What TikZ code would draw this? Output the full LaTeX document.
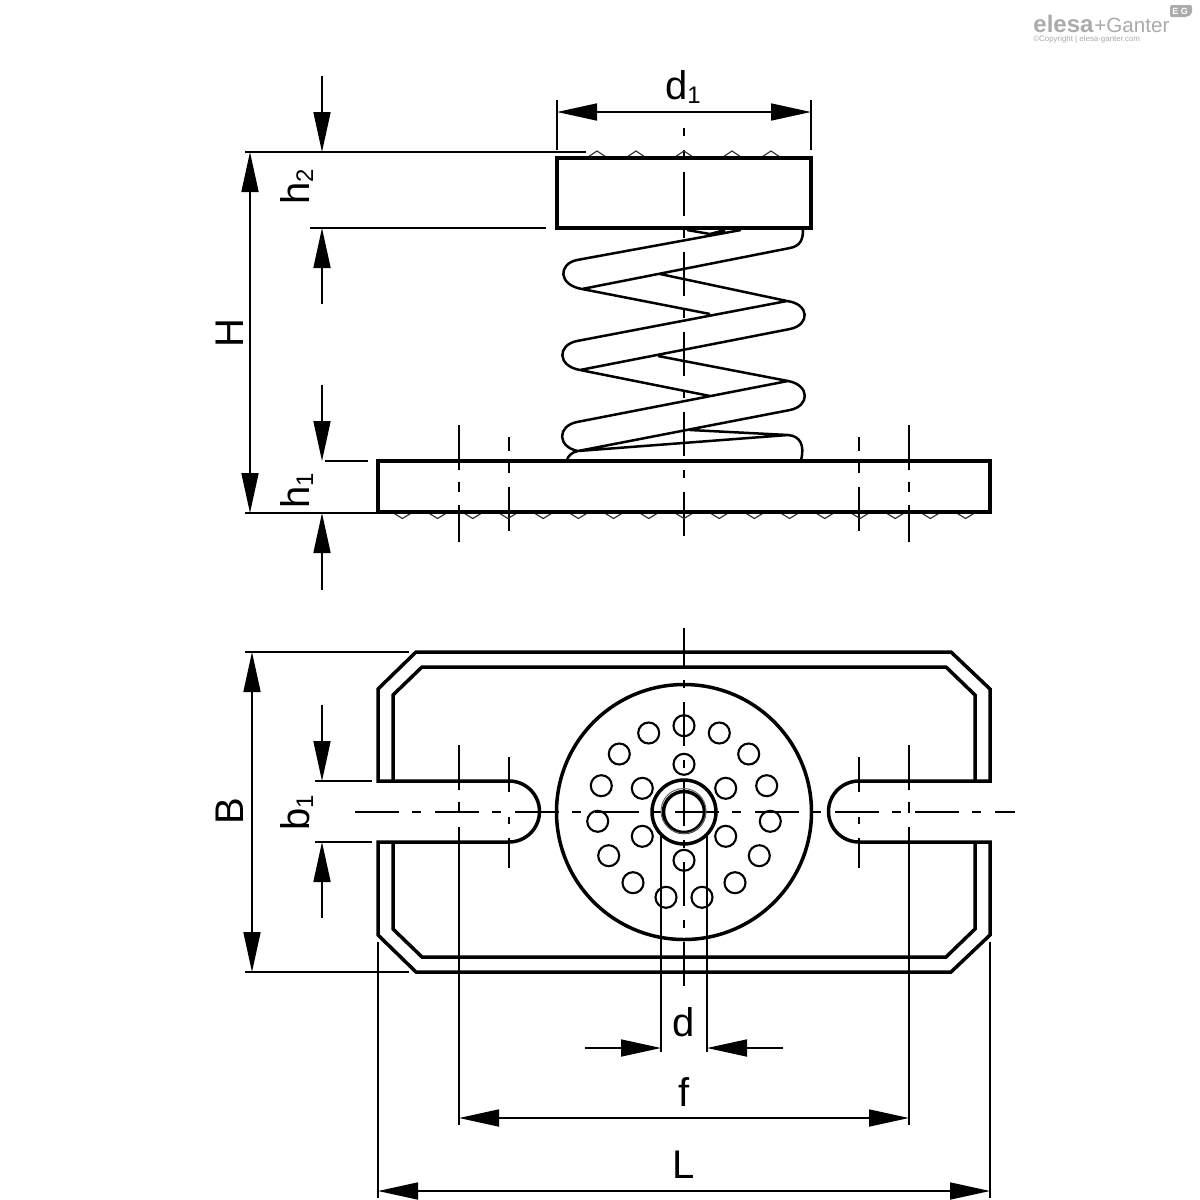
\documentclass[tikz,border=0pt]{standalone}
\usepackage{fontspec}
\setmainfont{Liberation Sans}
\usetikzlibrary{arrows.meta}
\definecolor{logogray}{HTML}{ABABAB}
\tikzset{
  part/.style={line width=1.75pt,line join=miter},
  thinpart/.style={line width=1.25pt},
  dim/.style={line width=0.85pt},
  hole/.style={line width=1.05pt},
  head/.style={-{Triangle[length=20pt,width=8.5pt]},dim},
  headboth/.style={{Triangle[length=20pt,width=8.5pt]}-{Triangle[length=20pt,width=8.5pt]},dim},
  axisv/.style={line width=0.85pt,dash pattern=on 21.8pt off 7.2pt on 4pt off 7pt},
  lab/.style={inner sep=0pt,font=\fontsize{20}{20}\selectfont},
  serr/.style={line width=0.6pt,draw=black!80},
  logo/.style={inner sep=0pt,text=logogray,anchor=base west}
}
\newcommand{\subs}[1]{\raisebox{-0.08em}{\fontsize{12}{12}\selectfont #1}}
\begin{document}
\begin{tikzpicture}[x=0.5pt,y=-0.5pt]
\useasboundingbox (0,0) rectangle (1200,1200);
\fill[white] (0,0) rectangle (1200,1200);

% ---------- side view: centre lines
\draw[axisv,dash phase=18pt] (684,128) -- (684,545);
\foreach \x in {459,909}{
  \draw[dim] (\x,425) -- (\x,470) (\x,482) -- (\x,492) (\x,505) -- (\x,542);
}
\foreach \x in {509,859}{
  \draw[dim] (\x,437) -- (\x,451) (\x,463) -- (\x,473) (\x,487) -- (\x,531);
}

% serrations
\foreach \x in {597,636,684,732,771}{
  \draw[serr] (\x-9,157) -- (\x,151) -- (\x+9,157);
}
\foreach \k in {-8,...,8}{
  \draw[serr] ({684+\k*35.2-9},513) -- ({684+\k*35.2},518.5) -- ({684+\k*35.2+9},513);
}

% spring
\draw[thinpart,line join=round]
  (741,230) -- (577,260) .. controls (558,264) and (558,285) .. (582,289)
  -- (790,248) .. controls (800,246) and (803,240) .. (803,230)
  (687,230) -- (710,234) -- (725,230)
  (660,274) -- (787,301) .. controls (810,304) and (810,325) .. (790,329)
  -- (580,370) .. controls (557,366) and (557,345) .. (577,341) -- (787,301)
  (582,289) -- (710,314)
  (658,356) -- (788,381) .. controls (810,385) and (810,406) .. (790,410)
  -- (578,451) .. controls (557,447) and (557,426) .. (577,422) -- (788,381)
  (580,370) -- (710,396)
  (690,430) -- (788,435) .. controls (800,436) and (805,445) .. (801,460)
  (578,451) -- (788,435)
  (578,451) .. controls (572,452) and (568,456) .. (567,460);

% plates
\draw[part] (557,158) rectangle (811,228);
\draw[part] (378,461) rectangle (990,512);

% side view dimensions
\draw[dim] (557,100) -- (557,150) (811,100) -- (811,150);
\draw[headboth] (557,112) -- (811,112);
\draw[dim] (245,152) -- (586,152) (310,228) -- (546,228);
\draw[dim] (325,461) -- (368,461) (245,513) -- (391,513);
\draw[headboth] (250,152) -- (250,513);
\draw[head] (322,76) -- (322,152);
\draw[head] (322,304) -- (322,228);
\draw[head] (322,385) -- (322,461);
\draw[head] (322,590) -- (322,513);
\node[lab] (d1) at (683,87) {d\subs{1}};
\node[lab,rotate=90] (H) at (230,333) {H};
\node[lab,rotate=90] (h2) at (297,187) {h\subs{2}};
\node[lab,rotate=90] (h1) at (297,491) {h\subs{1}};

% ---------- top view: centre lines
\draw[dim,dash pattern=on 22pt off 6.5pt on 4.5pt off 7pt] (355,812) -- (1015,812);
\draw[axisv,dash phase=3pt] (684,628) -- (684,987);
\foreach \x in {459,909}{
  \draw[dim] (\x,745) -- (\x,790) (\x,802) -- (\x,813) (\x,827) -- (\x,1125);
}
\foreach \x in {509,859}{
  \draw[dim] (\x,757) -- (\x,792) (\x,817) -- (\x,824) (\x,838) -- (\x,868);
}

% plate outlines
\draw[part]
  (378,781) -- (378,689) -- (416,652) -- (951,652) -- (990,689) -- (990,781) -- (859,781)
  arc[start angle=270,end angle=90,radius=30.5] -- (990,842)
  -- (990,935) -- (951,972) -- (416,972) -- (378,935) -- (378,842) -- (509,842)
  arc[start angle=90,end angle=-90,radius=30.5] -- cycle;
\draw[part] (393,781) -- (393,695) -- (422,667) -- (946,667) -- (975,695) -- (975,781);
\draw[part] (393,842) -- (393,929) -- (422,957) -- (946,957) -- (975,929) -- (975,842);

% disc and holes
\draw[part] (684,812) circle[radius=127.5];
\foreach \x/\y in {684/725.7,648.7/733,719.3/733,619.3/754,748.7/754,601.3/785.7,766.7/785.7,
  597.7/821.3,770.3/821.3,608.7/855.7,759.3/855.7,633/882.7,735/882.7,666/897.3,702/897.3,
  684/764.3,642.3/788.3,725.7/788.3,642.3/836.3,725.7/836.3,684/860.3}{
  \draw[hole] (\x,\y) circle[radius=10.5];
}
\draw[part] (684,812) circle[radius=32];
\draw[part] (684,812) circle[radius=20.5];
\draw[line width=0.5pt,draw=black!60] (683.5,811) circle[radius=22.5];
\draw[dim] (661,833) -- (661,1052) (707,833) -- (707,1052);

% top view dimensions
\draw[dim] (245,652) -- (409,652) (245,972) -- (409,972);
\draw[dim] (315,781) -- (372,781) (315,842) -- (372,842);
\draw[headboth] (252,652) -- (252,972);
\draw[head] (322,705) -- (322,781);
\draw[head] (322,918) -- (322,842);
\node[lab,rotate=90] (B) at (230,811) {B};
\node[lab,rotate=90] (b1) at (297,813) {b\subs{1}};

\draw[head] (585,1048) -- (661,1048);
\draw[head] (783,1048) -- (707,1048);
\node[lab] (d) at (684,1022) {d};
\draw[headboth] (459,1118) -- (909,1118);
\node[lab] (f) at (684,1092) {f};
\draw[dim] (378,942) -- (378,1198) (990,942) -- (990,1198);
\draw[headboth] (378,1191) -- (990,1191);
\node[lab] (L) at (684,1165) {L};

% ---------- logo
\node[logo] (elesa) at (1033,32) {\fontsize{12}{12}\selectfont\bfseries elesa};
\node[logo] (ganter) at (1094,32) {\fontsize{10.3}{11}\selectfont +Ganter};
\node[logo] (copy) at (1033,41.5) {\fontsize{3.95}{4}\selectfont ©Copyright | elesa-ganter.com};
\fill[logogray,rounded corners=1pt] (1170,5) -- (1192,5) -- (1192,14) -- (1187,17) -- (1170,17) -- cycle;
\node[inner sep=0pt,text=white] (eg) at (1180,11) {\fontsize{4.5}{5}\selectfont\bfseries E G};
\end{tikzpicture}
\end{document}
